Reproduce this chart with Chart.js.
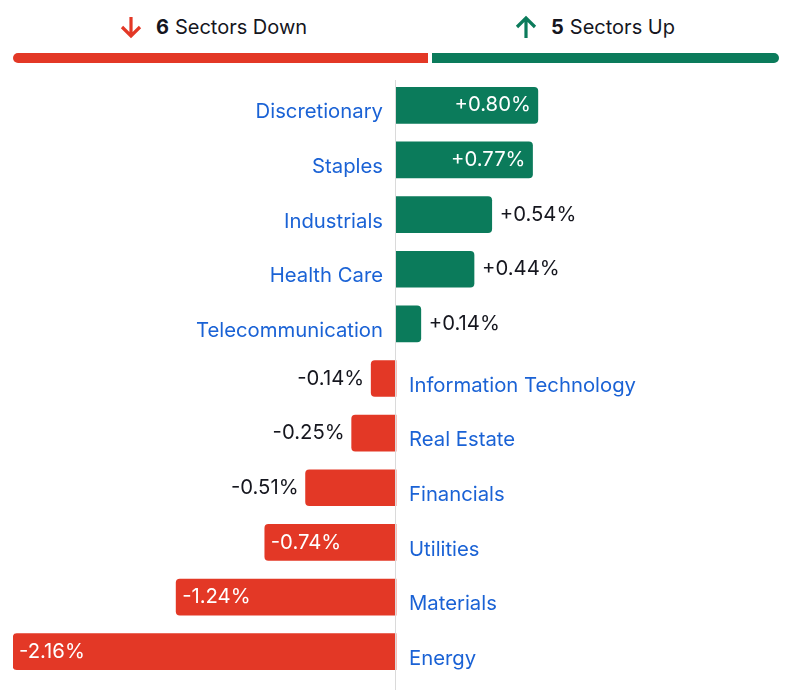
<!DOCTYPE html>
<html>
<head>
<meta charset="utf-8">
<script src="https://cdn.jsdelivr.net/npm/chart.js@4"></script>
<style>
  body { margin: 0; background: #fff; font-family: Inter, "Noto Sans", sans-serif; }
  .wrap { width: 795px; height: 694px; position: relative; overflow: hidden; }
  .head { position: absolute; top: 0; left: 13px; width: 766px; height: 78px; }
  .half { position: absolute; top: 12px; height: 30px; display: flex; align-items: center; justify-content: center; font-size: 20px; color: #15161e; }
  .half b { font-weight: 700; margin-right: 6px; }
  .half svg { margin-right: 13px; }
  .down { left: 0; width: 417px; padding-right: 17px; box-sizing: border-box; }
  .up { left: 419px; width: 347px; padding-right: 22px; box-sizing: border-box; }
  .split { position: absolute; top: 53px; height: 10px; }
  .split.red { left: 0; width: 415px; background: #e33826; border-radius: 5px 0 0 5px; }
  .split.green { left: 419px; width: 347px; background: #0b7b5b; border-radius: 0 5px 5px 0; }
  canvas { position: absolute; top: 78px; left: 0; }
</style>
</head>
<body>
<div class="wrap">
  <div class="head">
    <div class="half down">
      <svg width="24" height="24" viewBox="0 0 24 24"><path d="M12 2 V21 M3 12 L12 21 L21 12" stroke="#e33826" stroke-width="3.2" fill="none"/></svg>
      <b id="downCount"></b><span>Sectors Down</span>
    </div>
    <div class="half up">
      <svg width="24" height="24" viewBox="0 0 24 24"><path d="M12 23 V4 M3 12 L12 3 L21 12" stroke="#0b7b5b" stroke-width="3.2" fill="none"/></svg>
      <b id="upCount"></b><span>Sectors Up</span>
    </div>
    <div class="split red"></div>
    <div class="split green"></div>
  </div>
  <canvas id="sectorChart" width="795" height="616"></canvas>
</div>
<script>
const sectors = ['Discretionary', 'Staples', 'Industrials', 'Health Care', 'Telecommunication',
    'Information Technology', 'Real Estate', 'Financials', 'Utilities', 'Materials', 'Energy'];
const changes = [0.80, 0.77, 0.54, 0.44, 0.14, -0.14, -0.25, -0.51, -0.74, -1.24, -2.16];
const axisMin = -2.16;
const axisMax = 2.16;

const RED = '#e33826';
const GREEN = '#0b7b5b';
const LABEL_BLUE = '#1a62d5';

document.getElementById('downCount').innerText = changes.filter(v => v < 0).length;
document.getElementById('upCount').innerText = changes.filter(v => v > 0).length;

function fmt(v){
    return (v > 0 ? '+' : '') + v.toFixed(2) + '%';
}

// draws zero line, values and sector names next to each bar
const barLabels = {
    id: 'barLabels',
    afterDatasetsDraw(chart){
        const ctx = chart.ctx;
        const x0 = chart.scales.x.getPixelForValue(0);
        ctx.save();
        ctx.strokeStyle = '#dadada';
        ctx.lineWidth = 1;
        ctx.beginPath();
        ctx.moveTo(Math.round(x0) - 0.5, chart.chartArea.top + 2);
        ctx.lineTo(Math.round(x0) - 0.5, chart.height - 4);
        ctx.stroke();

        ctx.font = '20.3px Inter, "Noto Sans", sans-serif';
        const meta = chart.getDatasetMeta(0);
        meta.data.forEach((bar, i) => {
            const v = changes[i];
            const inside = Math.abs(v) >= 0.7;
            const text = fmt(v);
            ctx.textBaseline = 'middle';
            if (v >= 0){
                if (inside){
                    ctx.fillStyle = '#fff';
                    ctx.textAlign = 'right';
                    ctx.fillText(text, bar.x - 7, bar.y);
                } else {
                    ctx.fillStyle = '#15161e';
                    ctx.textAlign = 'left';
                    ctx.fillText(text, bar.x + 8, bar.y);
                }
                ctx.fillStyle = LABEL_BLUE;
                ctx.textAlign = 'right';
                ctx.fillText(sectors[i], x0 - 13, bar.y + 7);
            } else {
                if (inside){
                    ctx.fillStyle = '#fff';
                    ctx.textAlign = 'left';
                    ctx.fillText(text, bar.x + 6, bar.y);
                } else {
                    ctx.fillStyle = '#15161e';
                    ctx.textAlign = 'right';
                    ctx.fillText(text, bar.x - 7, bar.y);
                }
                ctx.fillStyle = LABEL_BLUE;
                ctx.textAlign = 'left';
                ctx.fillText(sectors[i], x0 + 13, bar.y + 7);
            }
        });
        ctx.restore();
    }
};

new Chart(document.getElementById('sectorChart'), {
    type: 'bar',
    data: {
        labels: sectors,
        datasets: [{
            data: changes,
            backgroundColor: changes.map(v => v >= 0 ? GREEN : RED),
            borderRadius: 4,
            borderSkipped: 'start',
            barThickness: 36
        }]
    },
    options: {
        indexAxis: 'y',
        responsive: false,
        animation: false,
        layout: { padding: { left: 13, right: 16, top: 0, bottom: 15 } },
        plugins: { legend: { display: false }, tooltip: { enabled: false } },
        scales: {
            x: { display: false, min: axisMin, max: axisMax },
            y: { display: false }
        }
    },
    plugins: [barLabels]
});
</script>
</body>
</html>
